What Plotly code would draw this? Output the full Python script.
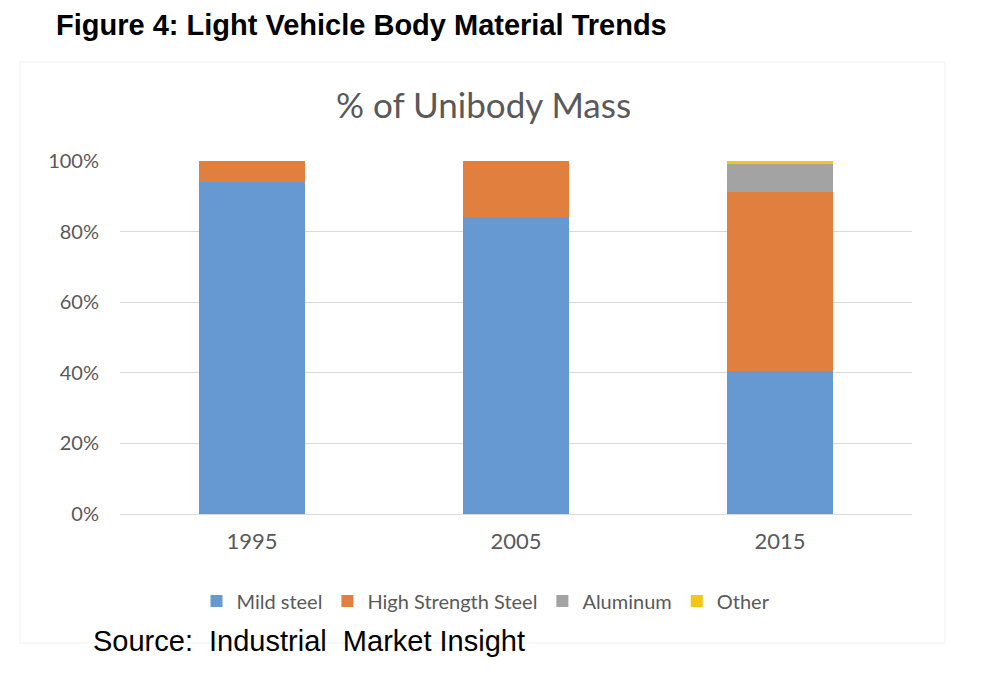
import plotly.graph_objects as go

years = ["1995", "2005", "2015"]
mild_steel = [94.0, 84.0, 40.5]
high_strength_steel = [6.0, 16.0, 50.7]
aluminum = [0.0, 0.0, 8.0]
other = [0.0, 0.0, 0.8]
y_ticks = [0, 20, 40, 60, 80, 100]
y_tick_labels = ["0%", "20%", "40%", "60%", "80%", "100%"]

series = [
    ("Mild steel", mild_steel, "#6699D2"),
    ("High Strength Steel", high_strength_steel, "#E07F3E"),
    ("Aluminum", aluminum, "#A3A3A3"),
    ("Other", other, "#F5C518"),
]

fig = go.Figure()
for name, vals, col in series:
    fig.add_trace(go.Bar(x=years, y=vals, name=name, marker=dict(color=col, line=dict(width=0))))

OFF = 8  # page body margin
W, H = 984, 692
px_l, px_r, px_t, px_b = 120, 912, 161, 514  # target plot area in page pixels
L, R, T, B = px_l - OFF, W - (px_r - OFF), px_t - OFF, H - (px_b - OFF)
pw = W - L - R
ph = H - T - B


def fx(x):
    return (x - OFF - L) / pw


def fy(y):
    return (H - B - (y - OFF)) / ph


fig.update_layout(
    width=W, height=H,
    barmode="stack", bargap=0.6,
    margin=dict(l=L, r=R, t=T, b=B),
    paper_bgcolor="white", plot_bgcolor="white",
    font=dict(family="Lato", color="#595959"),
    showlegend=True,
    legend=dict(orientation="h", x=fx(486), xanchor="center", y=fy(601), yanchor="middle",
                font=dict(size=20, color="#595959"), traceorder="normal", itemwidth=30),
    xaxis=dict(showgrid=False, showline=True, linecolor="#d9d9d9", linewidth=1,
               tickfont=dict(size=22, color="#595959"), ticks="", ticklabelstandoff=8),
    yaxis=dict(range=[0, 100], tickvals=y_ticks, ticktext=y_tick_labels, showgrid=True,
               gridcolor="#d9d9d9", gridwidth=1, zeroline=False, showline=False,
               tickfont=dict(size=20, color="#595959"), ticklabelstandoff=20),
    annotations=[
        dict(text="<b>Figure 4: Light Vehicle Body Material Trends</b>", xref="paper", yref="paper",
             x=fx(54), y=fy(25), xanchor="left", yanchor="middle",
             showarrow=False, font=dict(family="Liberation Sans", size=29, color="#000000")),
        dict(text="% of Unibody Mass", xref="paper", yref="paper",
             x=fx(483), y=fy(104), xanchor="center", yanchor="middle",
             showarrow=False, font=dict(family="Lato", size=35, color="#595959")),
        dict(text="Source:  Industrial  Market Insight", xref="paper", yref="paper",
             x=fx(91), y=fy(641), xanchor="left", yanchor="middle",
             showarrow=False, font=dict(family="Liberation Sans", size=29, color="#000000")),
    ],
    shapes=[
        dict(type="rect", xref="paper", yref="paper", x0=fx(20), x1=fx(945),
             y0=fy(643), y1=fy(62), line=dict(color="#f6f6f6", width=1.5), layer="below"),
    ],
)

fig.write_html("out.html")
